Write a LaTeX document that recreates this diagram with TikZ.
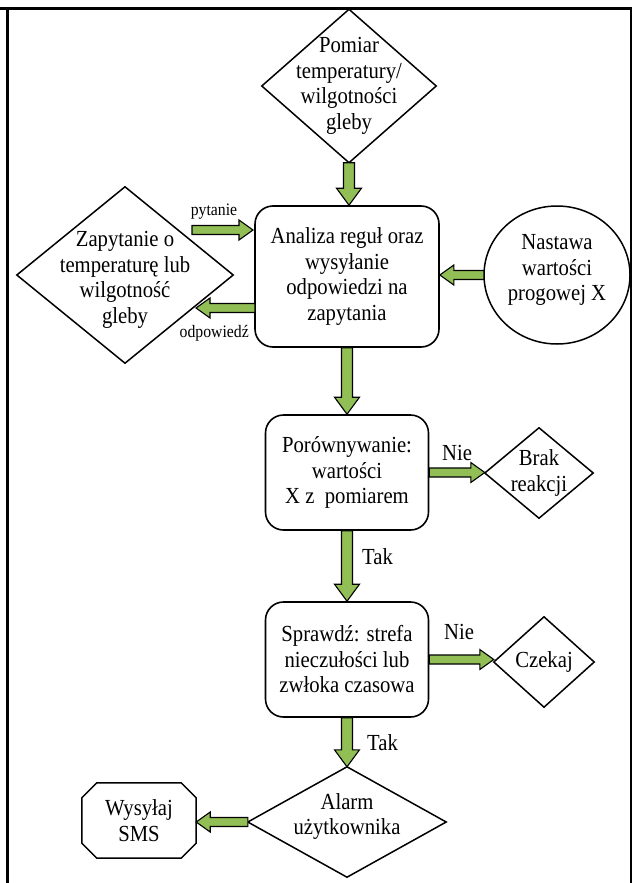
\documentclass[tikz,border=0pt]{standalone}
\usepackage{fontspec}
\setmainfont{Liberation Serif}[FakeStretch=0.9]
\usetikzlibrary{calc}
\definecolor{arrowgreen}{RGB}{146,190,86}
\newcommand\fatdown[2]{\draw[fatarr] let \p1=(#1), \p2=(#2) in
  (\x1-5.5pt,\y1) -- (\x1-5.5pt,\y2+17pt) -- (\x1-12.5pt,\y2+17pt) -- (\x1,\y2)
  -- (\x1+12.5pt,\y2+17pt) -- (\x1+5.5pt,\y2+17pt) -- (\x1+5.5pt,\y1) -- cycle;}
\newcommand\fatright[2]{\draw[fatarr] let \p1=(#1), \p2=(#2) in
  (\x1,\y1-4.5pt) -- (\x2-14pt,\y1-4.5pt) -- (\x2-14pt,\y1-10pt) -- (\x2,\y1)
  -- (\x2-14pt,\y1+10pt) -- (\x2-14pt,\y1+4.5pt) -- (\x1,\y1+4.5pt) -- cycle;}
\newcommand\fatleft[2]{\draw[fatarr] let \p1=(#1), \p2=(#2) in
  (\x1,\y1-4.5pt) -- (\x2+14pt,\y1-4.5pt) -- (\x2+14pt,\y1-10pt) -- (\x2,\y1)
  -- (\x2+14pt,\y1+10pt) -- (\x2+14pt,\y1+4.5pt) -- (\x1,\y1+4.5pt) -- cycle;}
\tikzset{
  geo/.style 2 args={rectangle, inner sep=0pt, minimum width=#1pt, minimum height=#2pt, align=center},
  rbox/.style 2 args={geo={#1}{#2}, draw=black, line width=1.6pt, rounded corners=18pt},
  shapeline/.style={draw=black, line width=1.5pt},
  fatarr/.style={fill=arrowgreen, draw=black, line width=1.1pt, line join=miter},
  txt/.style={inner sep=0pt, align=center},
  small/.style={inner sep=0pt, font=\fontsize{17.5}{20}\selectfont},
  frame/.style={draw=black, line width=3pt},
}
\begin{document}
\begin{tikzpicture}[x=1pt, y=-1pt, font=\fontsize{23}{25.5}\selectfont]
\useasboundingbox (0,0) rectangle (632,883);
% frame
\coordinate (fTL) at (0,8.5);
\coordinate (fTR) at (632,8.5);
\coordinate (fL1) at (7,7);
\coordinate (fL2) at (7,883);
\coordinate (fR1) at (631,8);
\coordinate (fR2) at (631,883);
\draw[frame] (fTL) -- (fTR);
\draw[frame] (fL1) -- (fL2);
\draw[draw=black, line width=1.3pt] (fR1) -- (fR2);

% top diamond
\node[geo={174}{153}] (pom) at (349,86) {Pomiar\\temperatury/\\wilgotności\\gleby};
\draw[shapeline] (pom.north) -- (pom.east) -- (pom.south) -- (pom.west) -- cycle;

% analysis box
\node[rbox={184}{141}] (ana) at (347,276.5) {Analiza reguł oraz\\wysyłanie\\odpowiedzi na\\zapytania};

% left diamond
\node[geo={216}{176}] (zap) at (125,275) {};
\draw[shapeline] (zap.north) -- (zap.east) -- (zap.south) -- (zap.west) -- cycle;
\node[txt] (zapT) at (125,280) {Zapytanie o\\temperaturę lub\\wilgotność\\gleby};

% ellipse
\node[geo={146}{138}] (nas) at (557,275) {};
\draw[shapeline] (nas.center) ellipse [x radius=73pt, y radius=69pt];
\node[txt] (nasT) at (557,270) {Nastawa\\wartości\\progowej X};

% comparison box
\node[rbox={163}{115}] (por) at (347,472.5) {Porównywanie:\\wartości\\X z\ \ pomiarem};

% brak reakcji diamond
\node[geo={108}{90}] (brak) at (539,473) {Brak\\reakcji};
\draw[shapeline] (brak.north) -- (brak.east) -- (brak.south) -- (brak.west) -- cycle;

% check box
\node[rbox={163}{115}] (spr) at (347,659.5) {Sprawdź: strefa\\nieczułości lub\\zwłoka czasowa};

% czekaj diamond
\node[geo={100}{90}] (cze) at (544,662) {Czekaj};
\draw[shapeline] (cze.north) -- (cze.east) -- (cze.south) -- (cze.west) -- cycle;

% alarm diamond
\node[geo={198}{110}] (alarm) at (347,822) {};
\draw[shapeline] (alarm.north) -- (alarm.east) -- (alarm.south) -- (alarm.west) -- cycle;
\node[txt] (alarmT) at (347,816.5) {Alarm\\użytkownika};

% SMS octagon
\node[geo={114}{75}] (sms) at (139,820.5) {Wysyłaj\\SMS};
\draw[shapeline] ($(sms.north west)+(15,0)$) -- ($(sms.north east)+(-15,0)$)
  -- ($(sms.north east)+(0,15)$) -- ($(sms.south east)+(0,-15)$)
  -- ($(sms.south east)+(-15,0)$) -- ($(sms.south west)+(15,0)$)
  -- ($(sms.south west)+(0,-15)$) -- ($(sms.north west)+(0,15)$) -- cycle;

% arrows
\fatdown{pom.south}{ana.north}
\coordinate (pyS) at (192,230);
\coordinate (pyE) at (253,230);
\fatright{pyS}{pyE}
\coordinate (odS) at (255,308);
\coordinate (odE) at (196,308);
\fatleft{odS}{odE}
\fatleft{nas.west}{ana.east}
\fatdown{ana.south}{por.north}
\fatdown{por.south}{spr.north}
\fatdown{spr.south}{alarm.north}
\fatright{por.east}{brak.west}
\fatright{spr.east}{cze.west}
\fatleft{alarm.west}{sms.east}

% labels
\node[small] (lpyt) at (214,212) {pytanie};
\node[small, anchor=east] (lodp) at (249,333) {odpowiedź};
\node[inner sep=0pt] (lnie1) at (457,453) {Nie};
\node[inner sep=0pt] (lnie2) at (459,632) {Nie};
\node[inner sep=0pt, anchor=west] (ltak1) at (362,557) {Tak};
\node[inner sep=0pt, anchor=west] (ltak2) at (367,743) {Tak};
\end{tikzpicture}
\end{document}
